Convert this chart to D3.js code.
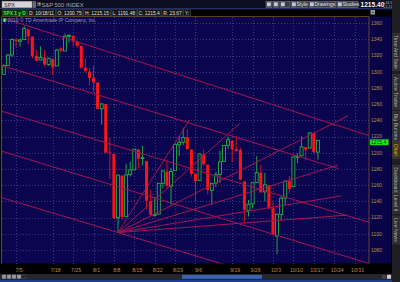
<!DOCTYPE html>
<html>
<head>
<meta charset="utf-8">
<style>
html, body { margin: 0; padding: 0; background: #000; overflow: hidden; }
svg { display: block; font-family: "Liberation Sans", Arial, sans-serif; }
</style>
</head>
<body>
<svg id="chart" width="400" height="282"></svg>
<script src="https://d3js.org/d3.v7.min.js"></script>
<script>

// SPX daily bars, 6/29/11 .. 10/18/11 (last bar intraday)
var days = ["6/29","6/30","7/1","7/5","7/6","7/7","7/8","7/11","7/12","7/13","7/14","7/15",
  "7/18","7/19","7/20","7/21","7/22","7/25","7/26","7/27","7/28","7/29",
  "8/1","8/2","8/3","8/4","8/5","8/8","8/9","8/10","8/11","8/12","8/15","8/16","8/17","8/18","8/19",
  "8/22","8/23","8/24","8/25","8/26","8/29","8/30","8/31","9/1","9/2","9/6","9/7","9/8","9/9",
  "9/12","9/13","9/14","9/15","9/16","9/19","9/20","9/21","9/22","9/23","9/26","9/27","9/28","9/29","9/30",
  "10/3","10/4","10/5","10/6","10/7","10/10","10/11","10/12","10/13","10/14","10/17","10/18"];
var open = [1296.8,1307.6,1320.6,1339.6,1337.6,1339.6,1352.4,1343.3,1319.6,1314.5,1317.7,1308.9,
  1315.9,1307.1,1328.7,1325.6,1343.8,1344.3,1337.4,1331.9,1304.8,1300.1,
  1292.6,1286.6,1254.2,1260.2,1200.3,1198.5,1120.2,1171.8,1121.3,1172.9,1178.9,1204.2,1192.9,1189.6,1140.5,
  1123.6,1124.4,1162.2,1176.7,1158.9,1177.9,1209.8,1213.0,1219.1,1203.9,1174.0,1165.9,1198.0,1185.4,
  1153.5,1162.6,1173.3,1189.4,1209.2,1215.0,1204.5,1203.6,1164.6,1128.8,1136.9,1163.3,1175.4,1151.7,1159.9,
  1131.2,1097.4,1124.0,1144.1,1165.0,1158.2,1194.6,1196.2,1207.0,1205.7,1224.5,1200.8];
var high = [1309.2,1321.9,1341.0,1340.9,1340.9,1356.5,1352.4,1343.3,1327.2,1331.5,1326.9,1317.7,
  1315.9,1328.1,1330.4,1347.0,1346.1,1344.3,1338.5,1331.9,1316.3,1304.2,
  1307.4,1286.6,1261.2,1260.2,1218.1,1198.5,1172.9,1171.8,1186.3,1189.0,1204.5,1204.2,1208.5,1189.6,1154.5,
  1145.5,1162.4,1178.6,1190.7,1181.2,1210.1,1220.1,1230.7,1229.3,1203.9,1174.0,1198.6,1204.4,1185.4,
  1162.5,1176.4,1202.4,1209.1,1220.1,1215.0,1220.4,1206.3,1164.6,1141.7,1162.5,1195.9,1184.7,1175.1,1159.9,
  1139.0,1125.1,1146.1,1165.6,1171.4,1194.9,1199.2,1220.3,1207.5,1224.6,1224.5,1215.4];
var low = [1296.8,1307.6,1318.0,1330.9,1330.9,1339.6,1333.7,1316.4,1313.3,1314.5,1306.5,1307.4,
  1295.9,1307.1,1323.7,1325.6,1336.0,1331.1,1329.1,1303.5,1299.2,1282.9,
  1274.7,1254.0,1234.6,1199.5,1168.1,1119.3,1101.5,1118.0,1121.3,1170.7,1178.9,1180.5,1184.4,1131.0,1122.0,
  1121.1,1124.4,1156.3,1155.5,1135.9,1177.9,1195.8,1209.4,1203.9,1170.6,1140.1,1165.9,1183.3,1148.4,
  1136.1,1157.4,1162.7,1189.4,1204.5,1188.4,1201.3,1166.2,1114.2,1121.4,1131.4,1163.3,1151.0,1139.9,1131.3,
  1098.9,1074.8,1115.7,1135.0,1150.3,1158.2,1187.3,1196.2,1190.6,1205.7,1198.6,1191.5];
var close = [1307.6,1320.6,1339.7,1337.9,1339.2,1353.2,1343.8,1319.5,1313.6,1317.7,1308.9,1316.1,
  1305.4,1326.7,1325.8,1343.8,1345.0,1337.4,1331.9,1304.9,1300.7,1292.3,
  1286.9,1254.1,1260.3,1200.1,1199.4,1119.5,1172.5,1120.8,1172.6,1178.8,1204.5,1192.8,1193.9,1140.7,1123.5,
  1123.8,1162.4,1177.6,1159.3,1176.8,1210.1,1212.9,1218.9,1204.4,1174.0,1165.2,1198.6,1185.9,1154.2,
  1162.3,1172.9,1188.7,1209.1,1216.0,1204.1,1202.1,1166.8,1129.6,1136.4,1163.0,1175.4,1151.1,1160.4,1131.4,
  1099.2,1124.0,1144.0,1165.0,1155.5,1194.9,1195.5,1207.3,1203.7,1224.6,1200.9,1215.4];
var firstSession = -3;   // 6/29 is three sessions before 7/5 (session 0)

var priceTicks = d3.range(1080, 1361, 20);
var dateLabels = ["7/5","7/18","7/25","8/1","8/8","8/15","8/22","8/29","9/6","9/19","9/26","10/3","10/10","10/17","10/24","10/31"];
var dateSessions = [0, 9, 14, 19, 24, 29, 34, 39, 44, 53, 58, 63, 68, 73, 78, 83];

// drawings: [session, price] at both ends
var channelFrom = [[-3, 1366], [-4, 1308.4], [-4, 1252], [-4, 1202.7], [-4, 1145.3]];
var channelTo   = [[87, 1220.4], [79, 1180.5], [87, 1113.5], [87, 1062.6], [87, 1007.9]];
var fanOrigin = [25, 1101.5];
var fanEnds = [[42.6, 1241], [54.9, 1236.3], [81.4, 1245.7], [79, 1184.8], [79.8, 1146.9], [81, 1123]];

var quoteFields = ["D: 10/18/11", "O: 1200.75", "H: 1215.15", "L: 1191.48", "C: 1215.4", "R: 23.67", "Y:"];
var lastPrice = 1215.4;
var tabNames = ["Time And Sale", "Active Trader", "Big Buttons", "Chart", "Dashboard", "Level II", "Live News"];
var tabCenters = [52, 92, 127, 150, 180, 203, 230];

var svg = d3.select("#chart");
var plotLeft = 2, plotRight = 369, plotTop = 16.5, plotBottom = 263.5;

var x = d3.scaleLinear().domain([0, 73]).range([16, 313.8]);
var y = d3.scaleLinear().domain([1080, 1340]).range([250, 39.3]);

var NAVY = "#0b0550", TAN = "#c08a48", GREEN = "#22c83c", RED = "#ff1414", DRAW = "#a8134c";

// ---- frame
svg.append("rect").attr("width", 400).attr("height", 282).attr("fill", "#000");
svg.append("rect").attr("x", 0).attr("y", 0).attr("width", 392).attr("height", 9).attr("fill", "#0e0e22");
svg.append("line").attr("x1", 0).attr("x2", 392).attr("y1", 8.8).attr("y2", 8.8)
  .attr("stroke", "#2a4a9a").attr("stroke-width", 0.8);
svg.append("rect").attr("x", plotLeft).attr("y", plotTop)
  .attr("width", plotRight - plotLeft).attr("height", plotBottom - plotTop).attr("fill", NAVY);
svg.append("rect").attr("x", plotRight).attr("y", plotTop).attr("width", 22)
  .attr("height", plotBottom - plotTop).attr("fill", "#090446");

svg.append("clipPath").attr("id", "plot").append("rect")
  .attr("x", plotLeft).attr("y", plotTop)
  .attr("width", plotRight - plotLeft).attr("height", plotBottom - plotTop);

// ---- grid
var grid = svg.append("g").attr("stroke", "#4a4488").attr("stroke-width", 0.8)
  .attr("stroke-dasharray", "1,2").attr("shape-rendering", "crispEdges");
grid.selectAll(".h").data(priceTicks).enter().append("line")
  .attr("x1", plotLeft).attr("x2", plotRight)
  .attr("y1", function (d) { return Math.round(y(d)) + 0.5; })
  .attr("y2", function (d) { return Math.round(y(d)) + 0.5; });
grid.selectAll(".v").data(dateSessions).enter().append("line")
  .attr("y1", plotTop).attr("y2", plotBottom)
  .attr("x1", function (d) { return Math.round(x(d)) + 0.5; })
  .attr("x2", function (d) { return Math.round(x(d)) + 0.5; });

// ---- candles
var bars = days.map(function (d, i) {
  return { s: i + firstSession, o: open[i], h: high[i], l: low[i], c: close[i] };
});
var plot = svg.append("g").attr("clip-path", "url(#plot)");
var cg = plot.selectAll(".bar").data(bars).enter().append("g");
cg.append("line")
  .attr("x1", function (d) { return x(d.s); })
  .attr("x2", function (d) { return x(d.s); })
  .attr("y1", function (d) { return y(d.h); })
  .attr("y2", function (d) { return y(d.l); })
  .attr("stroke", function (d) { return d.c >= d.o ? GREEN : RED; })
  .attr("stroke-width", 0.8);
cg.append("rect")
  .attr("x", function (d) { return x(d.s) - 1.5; })
  .attr("width", 3)
  .attr("y", function (d) { return y(Math.max(d.o, d.c)); })
  .attr("height", function (d) { return Math.max(0.8, Math.abs(y(d.o) - y(d.c))); })
  .attr("fill", function (d) { return d.c >= d.o ? NAVY : RED; })
  .attr("stroke", function (d) { return d.c >= d.o ? GREEN : "none"; })
  .attr("stroke-width", 0.8);

// ---- drawings
var dg = plot.append("g").attr("stroke", DRAW).attr("stroke-width", 1).attr("fill", "none");
dg.selectAll(".ch").data(channelFrom).enter().append("line")
  .attr("x1", function (d) { return x(d[0]); })
  .attr("y1", function (d) { return y(d[1]); })
  .attr("x2", function (d, i) { return x(channelTo[i][0]); })
  .attr("y2", function (d, i) { return y(channelTo[i][1]); });
dg.selectAll(".fan").data(fanEnds).enter().append("line")
  .attr("x1", x(fanOrigin[0])).attr("y1", y(fanOrigin[1]))
  .attr("x2", function (d) { return x(d[0]); })
  .attr("y2", function (d) { return y(d[1]); });

// ---- borders
svg.append("line").attr("x1", plotLeft).attr("x2", plotRight).attr("y1", plotTop).attr("y2", plotTop)
  .attr("stroke", "#6e4a2a").attr("stroke-width", 0.8);
svg.append("line").attr("x1", plotRight).attr("x2", plotRight).attr("y1", plotTop).attr("y2", plotBottom)
  .attr("stroke", "#7a5230").attr("stroke-width", 0.8);
svg.append("line").attr("x1", plotLeft - 0.5).attr("x2", plotLeft - 0.5).attr("y1", plotTop).attr("y2", plotBottom)
  .attr("stroke", "#4a6a9a").attr("stroke-width", 0.8);

// ---- price axis
svg.append("g").selectAll("text").data(priceTicks).enter().append("text")
  .attr("x", 371).attr("y", function (d) { return y(d) + 1.8; })
  .attr("font-size", 5).attr("fill", TAN).text(function (d) { return d; });
svg.append("rect").attr("x", 370).attr("y", y(lastPrice) - 1).attr("width", 18.5).attr("height", 5.8)
  .attr("fill", "#1cf01c").attr("stroke", "#0a8a0a").attr("stroke-width", 0.5);
svg.append("text").attr("x", 371).attr("y", y(lastPrice) + 3.6).attr("font-size", 5)
  .attr("fill", "#002000").text(lastPrice.toFixed(1));

// ---- date axis
svg.append("g").selectAll("text").data(dateLabels).enter().append("text")
  .attr("x", function (d, i) { return x(dateSessions[i]) + 3; })
  .attr("y", 271.5).attr("text-anchor", "middle")
  .attr("font-size", 5.2).attr("fill", TAN).text(function (d) { return d; });

// ---- bottom bar
svg.append("rect").attr("x", 0).attr("y", 274).attr("width", 392).attr("height", 5.5).attr("fill", "#26262e");
svg.append("rect").attr("x", 0).attr("y", 279.5).attr("width", 392).attr("height", 2.5).attr("fill", "#1c3c8c");
[2, 7, 12, 17, 22].forEach(function (bx, i) {
  svg.append("rect").attr("x", bx).attr("y", 274.8).attr("width", 4).attr("height", 4)
    .attr("fill", i === 4 ? "#26262e" : "#9a9aa6").attr("stroke", "#555").attr("stroke-width", 0.4);
});
svg.append("rect").attr("x", 182).attr("y", 275).attr("width", 80).attr("height", 3.8).attr("fill", "#3a64b4");
svg.append("rect").attr("x", 382).attr("y", 274.8).attr("width", 4).attr("height", 4).attr("fill", "#444");
svg.append("rect").attr("x", 387).attr("y", 274.8).attr("width", 4).attr("height", 4).attr("fill", "#ccc");

// ---- header row 1
svg.append("rect").attr("x", 2).attr("y", 1.2).attr("width", 30).attr("height", 6.6)
  .attr("fill", "#d6d6d6").attr("stroke", "#8a8a8a").attr("stroke-width", 0.5);
svg.append("text").attr("x", 4).attr("y", 6.6).attr("font-size", 5.5).attr("fill", "#222").text("SPX");
svg.append("rect").attr("x", 32.5).attr("y", 1.2).attr("width", 3.5).attr("height", 6.6).attr("fill", "#6a6a72");
svg.append("rect").attr("x", 37).attr("y", 2.5).attr("width", 1.8).attr("height", 1.8).attr("fill", "#e03030");
svg.append("rect").attr("x", 38.8).attr("y", 2.5).attr("width", 1.8).attr("height", 1.8).attr("fill", "#e0c020");
svg.append("rect").attr("x", 37).attr("y", 4.3).attr("width", 1.8).attr("height", 1.8).attr("fill", "#3050e0");
svg.append("rect").attr("x", 38.8).attr("y", 4.3).attr("width", 1.8).attr("height", 1.8).attr("fill", "#30b030");
svg.append("text").attr("x", 41.5).attr("y", 6.6).attr("font-size", 5.8).attr("fill", "#a8a8b4").text("S&P 500 INDEX");

var btns = [["", 266, 6], ["", 273, 6], ["", 280, 10], ["Style", 291, 17], ["Drawings", 309, 27], ["Studies", 337, 21]];
btns.forEach(function (b) {
  svg.append("rect").attr("x", b[1]).attr("y", 1.2).attr("width", b[2]).attr("height", 6.4)
    .attr("fill", "#3c3c4a").attr("stroke", "#8a8a96").attr("stroke-width", 0.5);
  svg.append("rect").attr("x", b[1] + 1).attr("y", 2.4).attr("width", 3.8).attr("height", 3.8)
    .attr("fill", "#c8c8d0");
  if (b[0]) svg.append("text").attr("x", b[1] + 5.5).attr("y", 6.2).attr("font-size", 5)
    .attr("fill", "#e8e8e8").text(b[0]);
});
svg.append("text").attr("x", 360.5).attr("y", 7.2).attr("font-size", 6.6).attr("font-weight", "bold")
  .attr("fill", "#f4f4f4").text("1215.40");
svg.append("text").attr("x", 383.5).attr("y", 3.8).attr("font-size", 3.4).attr("fill", "#c8c8c8").text("+14.54");
svg.append("text").attr("x", 383.5).attr("y", 7.8).attr("font-size", 3.4).attr("fill", "#c8c8c8").text("+1.21%");

// ---- header row 2: symbol tag + quote fields
var tag = svg.append("g");
var tagBox = tag.append("rect").attr("x", 2).attr("y", 9.8).attr("height", 6.2)
  .attr("fill", "#0c320c").attr("stroke", "#3a6a3a").attr("stroke-width", 0.5);
var tagText = tag.append("text").attr("x", 3.3).attr("y", 14.8).attr("font-size", 4.8).attr("font-weight", "bold")
  .attr("fill", "#3cf03c").text("SPX 1 y D");
var tagW = tagText.node().getComputedTextLength() + 2.6;
tagBox.attr("width", tagW);
var qx = 2 + tagW + 0.8;
quoteFields.forEach(function (q) {
  var g = svg.append("g");
  var box = g.append("rect").attr("x", qx).attr("y", 9.8).attr("height", 6.2)
    .attr("fill", "#101014").attr("stroke", "#5a5a5a").attr("stroke-width", 0.5);
  var t = g.append("text").attr("x", qx + 1.3).attr("y", 14.8).attr("font-size", 4.9)
    .attr("fill", "#e4e4e4").text(q);
  var w = t.node().getComputedTextLength() + 2.6;
  box.attr("width", w);
  qx += w + 0.8;
});
svg.append("rect").attr("x", 370.5).attr("y", 10).attr("width", 4.5).attr("height", 4.5)
  .attr("fill", "#9a9aa6");
svg.append("rect").attr("x", 371.5).attr("y", 11.9).attr("width", 2.5).attr("height", 0.7).attr("fill", "#222");

// copyright line
svg.append("circle").attr("cx", 4.6).attr("cy", 20).attr("r", 2.1).attr("fill", "#2fbf2f");
svg.append("text").attr("x", 4.6).attr("y", 21.6).attr("text-anchor", "middle").attr("font-size", 4)
  .attr("font-weight", "bold").attr("fill", "#fff").text("i");
svg.append("text").attr("x", 7.5).attr("y", 21.7).attr("font-size", 5).attr("fill", "#9c9cb0")
  .text("2010 \u00a9 TD Ameritrade IP Company, Inc.");

// ---- right tab strip
svg.append("rect").attr("x", 392).attr("y", 0).attr("width", 8).attr("height", 282).attr("fill", "#1e1e22");
tabNames.forEach(function (name, i) {
  var sel = name === "Chart";
  var g = svg.append("g").attr("transform", "translate(396," + tabCenters[i] + ") rotate(90)");
  var box = g.append("rect").attr("y", -3.6).attr("height", 7.2)
    .attr("fill", sel ? "#3a3420" : "#2a2a30").attr("stroke", "#4a4a52").attr("stroke-width", 0.4);
  var t = g.append("text").attr("text-anchor", "middle").attr("y", 1.8).attr("font-size", 5.2)
    .attr("fill", sel ? "#f0b020" : "#b4b4bc").text(name);
  var w = t.node().getComputedTextLength() + 4;
  box.attr("x", -w / 2).attr("width", w);
});

</script>
</body>
</html>
